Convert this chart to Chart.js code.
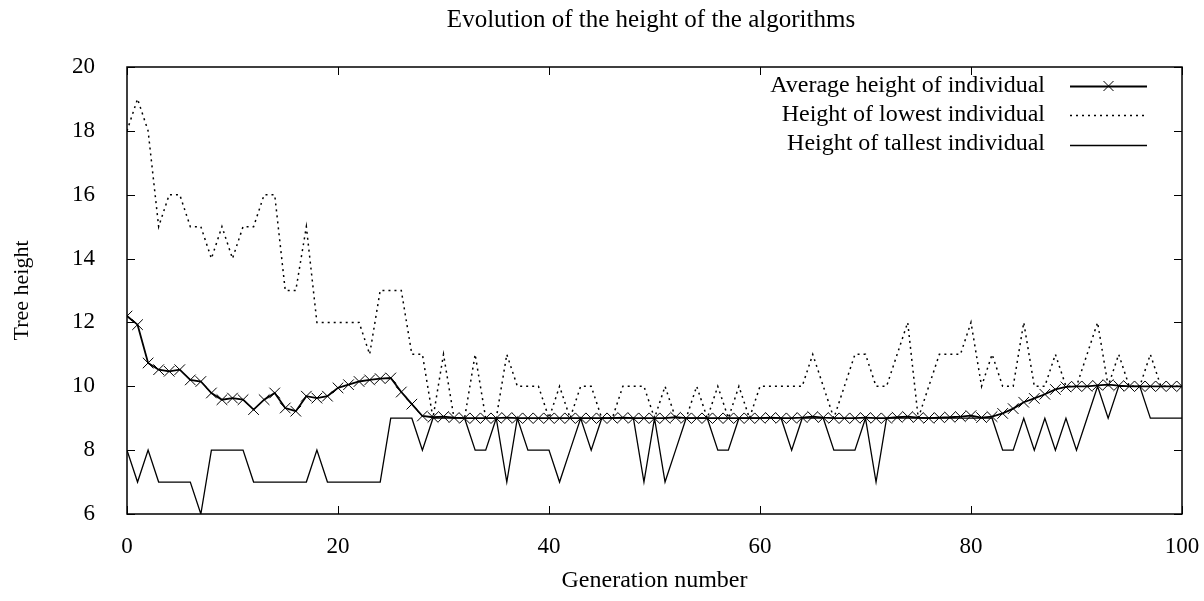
<!DOCTYPE html>
<html><head><meta charset="utf-8">
<script src="https://cdn.jsdelivr.net/npm/chart.js@4.4.1/dist/chart.umd.min.js"></script>
<style>html,body{margin:0;padding:0;background:#fff}#wrap{width:1204px;height:601px;position:relative}</style>
</head><body><div id="wrap"><canvas id="c"></canvas></div>
<script>
const chartTitle = "Evolution of the height of the algorithms";
const xTitle = "Generation number";
const yTitle = "Tree height";
const seriesNames = ["Average height of individual", "Height of lowest individual", "Height of tallest individual"];

const generations = [0,1,2,3,4,5,6,7,8,9,10,11,12,13,14,15,16,17,18,19,20,21,22,23,24,25,26,27,28,29,30,31,32,33,34,35,36,37,38,39,40,41,42,43,44,45,46,47,48,49,50,51,52,53,54,55,56,57,58,59,60,61,62,63,64,65,66,67,68,69,70,71,72,73,74,75,76,77,78,79,80,81,82,83,84,85,86,87,88,89,90,91,92,93,94,95,96,97,98,99,100];

const averageHeight = [12.2,11.93,10.73,10.52,10.47,10.52,10.2,10.15,9.79,9.58,9.63,9.58,9.27,9.58,9.79,9.32,9.22,9.69,9.63,9.69,9.95,10.05,10.15,10.2,10.24,10.26,9.82,9.44,9.07,9.03,9.05,9.02,9.0,9.0,9.0,9.0,9.02,9.0,9.0,9.0,9.0,9.0,9.0,9.0,9.0,9.0,9.0,9.02,9.0,9.0,9.0,9.0,9.03,9.0,9.0,9.0,9.0,9.0,9.0,9.0,9.0,9.02,9.0,9.0,9.02,9.05,9.02,9.0,9.0,9.0,9.02,9.0,9.0,9.03,9.05,9.02,9.0,9.02,9.03,9.05,9.08,9.02,9.05,9.15,9.3,9.5,9.62,9.75,9.9,9.98,10.0,10.0,10.03,10.05,10.02,10.0,10.0,10.0,10.0,10.0,10.0];

const lowestHeight = [18,19,18,15,16,16,15,15,14,15,14,15,15,16,16,13,13,15,12,12,12,12,12,11,13,13,13,11,11,9,11,9,9,11,9,9,11,10,10,10,9,10,9,10,10,9,9,10,10,10,9,10,9,9,10,9,10,9,10,9,10,10,10,10,10,11,10,9,10,11,11,10,10,11,12,9,10,11,11,11,12,10,11,10,10,12,10,10,11,10,10,11,12,10,11,10,10,11,10,10,10];

const tallestHeight = [8,7,8,7,7,7,7,6,8,8,8,8,7,7,7,7,7,7,8,7,7,7,7,7,7,9,9,9,8,9,9,9,9,8,8,9,7,9,8,8,8,7,8,9,8,9,9,9,9,7,9,7,8,9,9,9,8,8,9,9,9,9,9,8,9,9,9,8,8,8,9,7,9,9,9,9,9,9,9,9,9,9,9,8,8,9,8,9,8,9,8,9,10,9,10,10,10,9,9,9,9];

const xTickValues = [0,20,40,60,80,100];
const yTickValues = [6,8,10,12,14,16,18,20];

const FONT = "'Liberation Serif', 'DejaVu Serif', serif";

function pts(vals){ return generations.map((g,i)=>({x:g,y:vals[i]})); }

const framePlugin = {
  id: 'frame',
  afterDatasetsDraw(chart){
    const {ctx, chartArea:a, scales:{x,y}} = chart;
    ctx.save();
    ctx.strokeStyle = '#000';
    ctx.lineWidth = 1.5;
    ctx.strokeRect(a.left, a.top, a.right-a.left, a.bottom-a.top);
    const tl = 8;
    ctx.lineWidth = 1;
    ctx.beginPath();
    xTickValues.forEach(v=>{
      const px = Math.round(x.getPixelForValue(v))+0.5;
      ctx.moveTo(px, a.bottom); ctx.lineTo(px, a.bottom-tl);
      ctx.moveTo(px, a.top); ctx.lineTo(px, a.top+tl);
    });
    yTickValues.forEach(v=>{
      const py = Math.round(y.getPixelForValue(v))+0.5;
      ctx.moveTo(a.left, py); ctx.lineTo(a.left+tl, py);
      ctx.moveTo(a.right, py); ctx.lineTo(a.right-tl, py);
    });
    ctx.stroke();
    ctx.restore();
  },
  afterDraw(chart){
    const {ctx} = chart;
    ctx.save();
    ctx.fillStyle = '#000';
    ctx.font = '25px ' + FONT;
    ctx.textAlign = 'center';
    ctx.textBaseline = 'alphabetic';
    ctx.fillText(chartTitle, 651, 27);
    // legend
    const textRight = 1045, s0 = 1070, s1 = 1147;
    const baselines = [92, 121, 150];
    const lines = [86, 115, 145];
    ctx.textAlign = 'right';
    ctx.font = '24px ' + FONT;
    chart.data.datasets.forEach((ds,i)=>{
      const yy = lines[i];
      ctx.fillText(ds.label, textRight, baselines[i]);
      ctx.beginPath();
      ctx.strokeStyle = '#000';
      ctx.lineWidth = ds.borderWidth;
      ctx.setLineDash(ds.borderDash || []);
      ctx.moveTo(s0, yy+0.5); ctx.lineTo(s1, yy+0.5);
      ctx.stroke();
      ctx.setLineDash([]);
      if (ds.pointStyle === 'crossRot') {
        const c = (s0+s1)/2, r = 5;
        ctx.lineWidth = 1;
        ctx.beginPath();
        ctx.moveTo(c-r, yy-r); ctx.lineTo(c+r, yy+r);
        ctx.moveTo(c-r, yy+r); ctx.lineTo(c+r, yy-r);
        ctx.stroke();
      }
    });
    ctx.restore();
  }
};

new Chart(document.getElementById('c'), {
  type: 'line',
  data: {
    datasets: [
      { label: seriesNames[0], data: pts(averageHeight), borderColor:'#000', backgroundColor:'#000', borderWidth:1.8,
        pointStyle:'crossRot', pointRadius:7.5, pointBorderWidth:1, pointBorderColor:'#000', tension:0, order:0 },
      { label: seriesNames[1], data: pts(lowestHeight), borderColor:'#000', borderWidth:1.5, borderDash:[2,4],
        pointRadius:0, tension:0, order:1 },
      { label: seriesNames[2], data: pts(tallestHeight), borderColor:'#000', borderWidth:1.3,
        pointRadius:0, tension:0, order:2 }
    ]
  },
  options: {
    responsive: true, maintainAspectRatio: false, animation: false,
    layout: { padding: { top: 67, right: 22, left: 0, bottom: 0 } },
    plugins: { legend: { display: false }, tooltip: { enabled: false }, title: { display: false } },
    scales: {
      x: {
        type: 'linear', min: 0, max: 100,
        grid: { display: false }, border: { display: false },
        afterBuildTicks(s){ s.ticks = xTickValues.map(v=>({value:v})); },
        afterFit(s){ s.height = 87; s.paddingLeft = 0; s.paddingRight = 0; },
        ticks: { color:'#000', font:{ family: FONT, size: 23 }, padding: 11, maxRotation: 0 },
        title: { display: true, text: xTitle, color:'#000', font:{ family: FONT, size: 24 }, padding:{ top:0, bottom:6 } }
      },
      y: {
        min: 6, max: 20,
        grid: { display: false }, border: { display: false },
        afterBuildTicks(s){ s.ticks = yTickValues.map(v=>({value:v})); },
        afterFit(s){ s.width = 127; s.paddingTop = 0; s.paddingBottom = 0; },
        ticks: { color:'#000', font:{ family: FONT, size: 23 }, padding: 24 },
        title: { display: true, text: yTitle, color:'#000', font:{ family: FONT, size: 22 }, padding:{ top:9, bottom:0 } }
      }
    }
  },
  plugins: [framePlugin]
});
</script>
</body></html>
